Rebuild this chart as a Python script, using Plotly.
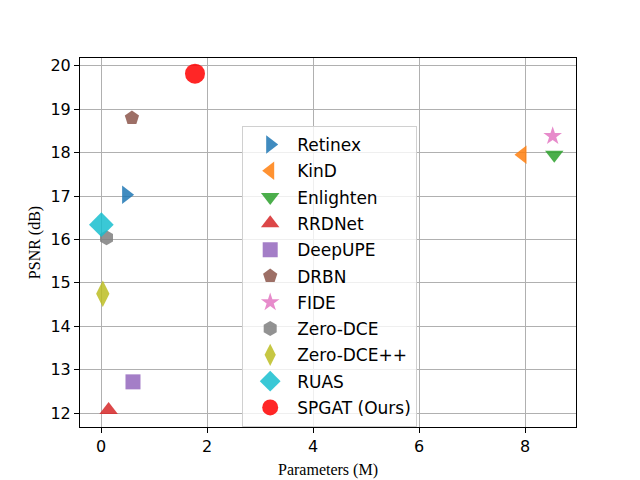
import plotly.graph_objects as go

# method names, parameter counts (M) and PSNR (dB)
methods = ["Retinex", "KinD", "Enlighten", "RRDNet", "DeepUPE", "DRBN",
           "FIDE", "Zero-DCE", "Zero-DCE++", "RUAS", "SPGAT (Ours)"]
params = [0.47, 7.95, 8.55, 0.14, 0.60, 0.58, 8.52, 0.10, 0.03, 0.003, 1.77]
psnr = [17.03, 17.95, 17.95, 12.07, 12.72, 18.80, 18.38, 16.04, 14.75, 16.34, 19.82]

symbols = ["triangle-right", "triangle-left", "triangle-down", "triangle-up",
           "square", "pentagon", "star", "hexagon", "diamond-tall", "diamond", "circle"]
colors = ["#1f77b4", "#ff7f0e", "#2ca02c", "#d62728", "#9467bd", "#8c564b",
          "#e377c2", "#7f7f7f", "#bcbd22", "#17becf", "#ff0000"]
sizes = [16, 16, 16, 16, 15, 15, 14, 15, 19, 19, 20]

fig = go.Figure()
for name, x, y, sym, col, sz in zip(methods, params, psnr, symbols, colors, sizes):
    fig.add_trace(go.Scatter(
        x=[x], y=[y], mode="markers", name=name, legendgroup=name,
        marker=dict(symbol=sym, color=col, size=sz, opacity=0.85, line=dict(width=0)),
    ))

axis_common = dict(
    showline=True, linecolor="black", linewidth=1, mirror=True,
    showgrid=True, gridcolor="#b0b0b0", gridwidth=1,
    ticks="outside", ticklen=5, tickcolor="black",
    tickfont=dict(family="DejaVu Sans", size=16, color="black"),
    zeroline=False, automargin=False,
)

# page body has an 8px margin, so the margins are shifted to compensate
fig.update_layout(
    width=640, height=480,
    margin=dict(l=72, r=72, t=50, b=61),
    paper_bgcolor="white", plot_bgcolor="white",
    xaxis=dict(range=[-0.40, 8.96], tickvals=[0, 2, 4, 6, 8],
               title=dict(text="Parameters (M)", standoff=8,
                          font=dict(family="Liberation Serif", size=16, color="black")),
               **axis_common),
    yaxis=dict(range=[11.68, 20.18], tickvals=list(range(12, 21)),
               title=dict(text="PSNR (dB)", standoff=5,
                          font=dict(family="Liberation Serif", size=16, color="black")),
               **axis_common),
    legend=dict(x=0.327, y=0.816, xanchor="left", yanchor="top",
                bgcolor="rgba(255,255,255,0.8)", bordercolor="#d0d0d0", borderwidth=1,
                font=dict(family="DejaVu Sans", size=17, color="black"),
                itemsizing="trace", itemwidth=44, tracegroupgap=1.2),
    showlegend=True,
)

fig.write_html("out.html")
